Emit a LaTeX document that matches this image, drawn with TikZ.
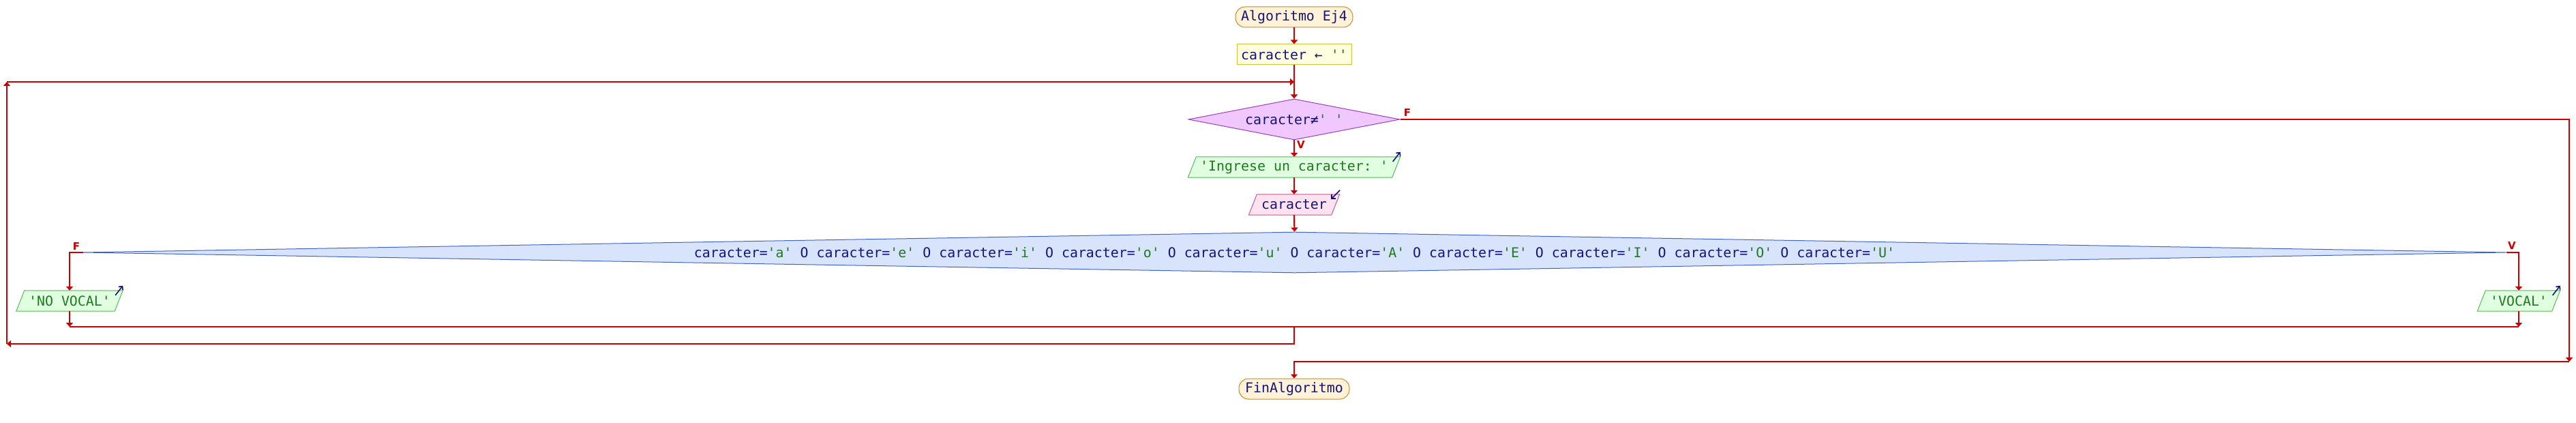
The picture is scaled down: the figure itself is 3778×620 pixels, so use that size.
\documentclass[tikz,border=0pt]{standalone}
\usepackage{fontspec}
\setmonofont{DejaVu Sans Mono}
\setsansfont{DejaVu Sans}
\usetikzlibrary{shapes.geometric,arrows.meta}
\pgfdeclarelayer{back}
\pgfdeclarelayer{bg}
\pgfsetlayers{back,bg,main}
\definecolor{navy}{HTML}{14147C}
\definecolor{strgreen}{HTML}{1F7A1F}
\definecolor{flowred}{HTML}{CC0000}
\definecolor{termf}{HTML}{FFF2D6}
\definecolor{termb}{HTML}{C98A30}
\definecolor{asgf}{HTML}{FFFFE0}
\definecolor{asgb}{HTML}{CCC23C}
\definecolor{loopf}{HTML}{F0C8FF}
\definecolor{loopb}{HTML}{9A3CC8}
\definecolor{outf}{HTML}{E0FFE0}
\definecolor{outb}{HTML}{55BB55}
\definecolor{inf}{HTML}{FFE2F0}
\definecolor{inb}{HTML}{C8588C}
\definecolor{condf}{HTML}{D8E4FC}
\definecolor{condb}{HTML}{4163C8}
\newcommand\lit[1]{\textcolor{strgreen}{#1}}
\tikzset{
  every node/.style={font=\ttfamily\fontsize{19.9}{20}\selectfont, text=navy, inner sep=0pt},
  term/.style={draw=termb, fill=termf, rounded corners=14pt, minimum height=30pt, line width=1pt},
  asgbox/.style={draw=asgb, fill=asgf, minimum height=30pt, line width=1pt},
  loopd/.style={diamond, draw=loopb, fill=loopf, line width=1pt, minimum width=310pt, minimum height=60pt, aspect=5},
  condd/.style={diamond, draw=condb, fill=condf, line width=1pt, minimum width=3553pt, minimum height=60pt, aspect=60},
  iobox/.style={minimum height=30pt},
  flow/.style={draw=flowred, line width=2.2pt},
  arr/.style={flow, -{Triangle[width=10pt,length=6pt]}},
  lbl/.style={font=\sffamily\bfseries\fontsize{15}{15}\selectfont, text=flowred},
  icon/.style={draw=navy, line width=1.6pt, -{Straight Barb[length=4pt,width=8pt]}},
  para/.style={line width=1pt}
}
\newcommand\paral[3]{%
  \begin{pgfonlayer}{bg}
    \path[para, draw=#2, fill=#3] ([xshift=-6pt]#1.south west) -- ([xshift=6pt]#1.north west)
      -- ([xshift=6pt]#1.north east) -- ([xshift=-6pt]#1.south east) -- cycle;
  \end{pgfonlayer}}
\begin{document}
\begin{tikzpicture}[x=1pt,y=-1pt]
\useasboundingbox (0,0) rectangle (3778,620);
\begin{pgfonlayer}{back}
\fill[white] (0,0) rectangle (3778,620);
\end{pgfonlayer}

% nodes
\node[term, minimum width=172pt] (start) at (1898,25) {Algoritmo Ej4};
\node[asgbox, minimum width=168pt] (asg) at (1898,80) {caracter ← \lit{''}};
\node[loopd] (d1) at (1898,175) {caracter≠\lit{' '}};
\node[iobox, minimum width=299pt] (out1) at (1898,245) {\textcolor{strgreen}{'Ingrese un caracter: '}};
\paral{out1}{outb}{outf}
\node[iobox, minimum width=121pt] (in1) at (1898,300) {caracter};
\paral{in1}{inb}{inf}
\node[condd] (cond) at (1898.5,370) {caracter=\lit{'a'} O caracter=\lit{'e'} O caracter=\lit{'i'} O caracter=\lit{'o'} O caracter=\lit{'u'} O caracter=\lit{'A'} O caracter=\lit{'E'} O caracter=\lit{'I'} O caracter=\lit{'O'} O caracter=\lit{'U'}};
\node[iobox, minimum width=144pt] (outNo) at (102,441) {\textcolor{strgreen}{'NO VOCAL'}};
\paral{outNo}{outb}{outf}
\node[iobox, minimum width=109pt] (outSi) at (3694,441) {\textcolor{strgreen}{'VOCAL'}};
\paral{outSi}{outb}{outf}
\node[term, minimum width=162pt] (end) at (1898,570) {FinAlgoritmo};

% labels
\node[lbl] (lf1) at (2064,165) {F};
\node[lbl] (lv1) at (1908,212) {V};
\node[lbl] (lf2) at (112,361) {F};
\node[lbl] (lv2) at (3684,360) {V};

% coordinates
\coordinate (lpin) at (1898,120);
\coordinate (tl) at (10,120);
\coordinate (bl) at (10,504);
\coordinate (jm) at (1898,479);
\coordinate (jl) at (102,479);
\coordinate (jr) at (3694,479);
\coordinate (er) at (3768,530);

% connectors
\draw[arr] (start.south) -- (asg.north);
\draw[arr] (asg.south) -- (d1.north);
\draw[arr] (d1.south) -- (out1.north);
\draw[arr] (out1.south) -- (in1.north);
\draw[arr] (in1.south) -- (cond.north);
\draw[arr] (cond.west) -| (outNo.north);
\draw[arr] (cond.east) -| (outSi.north);
\draw[arr] (outNo.south) -- (jl);
\draw[arr] (outSi.south) -- (jr);
\draw[flow] (jl) -- (jr);
\draw[arr] (jm) |- (bl);
\draw[arr] (bl) -- (tl);
\draw[arr] (tl) -- (lpin);
\draw[arr] (d1.east) -| (er);
\draw[arr] (er) -| (end.north);

% io icons
\draw[icon] ([xshift=-5pt,yshift=-7pt]out1.north east) -- ([xshift=6pt,yshift=7pt]out1.north east);
\draw[icon] ([xshift=-5pt,yshift=-7pt]outNo.north east) -- ([xshift=6pt,yshift=7pt]outNo.north east);
\draw[icon] ([xshift=-5pt,yshift=-7pt]outSi.north east) -- ([xshift=6pt,yshift=7pt]outSi.north east);
\draw[icon] ([xshift=6.5pt,yshift=6pt]in1.north east) -- ([xshift=-6.5pt,yshift=-7pt]in1.north east);
\end{tikzpicture}
\end{document}
